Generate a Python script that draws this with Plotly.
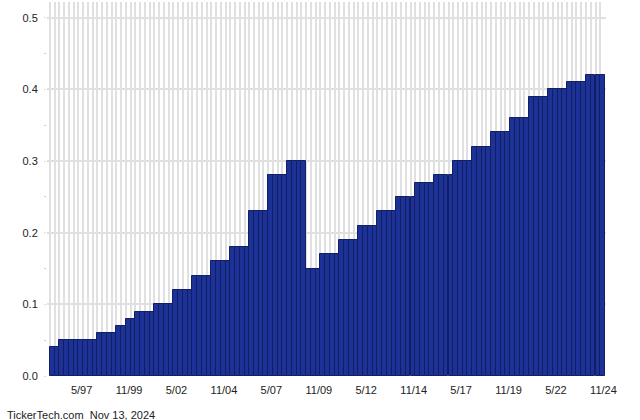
import pandas as pd
import plotly.graph_objects as go

# Quarterly dividend dates (start of each bar) and amounts
dates = pd.date_range("1995-09-01", periods=117, freq="3MS")
values = (
    [0.04] * 2 + [0.05] * 8 + [0.06] * 4 + [0.07] * 2 + [0.08] * 2
    + [0.09] * 4 + [0.10] * 4 + [0.12] * 4 + [0.14] * 4 + [0.16] * 4
    + [0.18] * 4 + [0.23] * 4 + [0.28] * 4 + [0.30] * 4 + [0.15] * 3
    + [0.17] * 4 + [0.19] * 4 + [0.21] * 4 + [0.23] * 4 + [0.25] * 4
    + [0.27] * 4 + [0.28] * 4 + [0.30] * 4 + [0.32] * 4 + [0.34] * 4
    + [0.36] * 4 + [0.39] * 4 + [0.40] * 4 + [0.41] * 4 + [0.42] * 4
)
tick_dates = ["1997-05-01", "1999-11-01", "2002-05-01", "2004-11-01",
              "2007-05-01", "2009-11-01", "2012-05-01", "2014-11-01",
              "2017-05-01", "2019-11-01", "2022-05-01", "2024-11-01"]
tick_labels = ["5/97", "11/99", "5/02", "11/04", "5/07", "11/09",
               "5/12", "11/14", "5/17", "11/19", "5/22", "11/24"]
footer = "TickerTech.com \u00a0Nov 13, 2024"

quarter_ms = 91.31 * 24 * 3600 * 1000

fig = go.Figure()
fig.add_trace(go.Bar(
    x=dates, y=values,
    width=quarter_ms, offset=0,
    marker=dict(color="#1d3296", line=dict(color="#111e64", width=1)),
    hoverinfo="x+y",
))

font = "Liberation Sans, Arial, sans-serif"
fig.update_layout(
    width=640, height=420,
    margin=dict(l=47, r=34, t=2, b=44, autoexpand=False),
    paper_bgcolor="white", plot_bgcolor="white",
    showlegend=False,
    bargap=0,
    font=dict(family=font, size=11, color="#222222"),
    xaxis=dict(
        type="date", automargin=False,
        range=["1995-07-05", "2024-12-20"],
        tickmode="array", tickvals=tick_dates, ticktext=tick_labels,
        showgrid=False, zeroline=False, showline=False,
        ticks="", ticklabelstandoff=6,
        tickfont=dict(size=11, color="#222222"),
        minor=dict(tickvals=list(dates), showgrid=True,
                   gridcolor="#e0e0e0", gridwidth=1.5, ticks=""),
    ),
    yaxis=dict(
        automargin=False,
        range=[0, 0.522], dtick=0.1, tick0=0, tickformat=".1f",
        showgrid=True, gridcolor="#e0e0e0", gridwidth=1.5,
        zeroline=False, showline=False,
        ticks="outside", ticklen=2, tickcolor="#dedede",
        ticklabelstandoff=4,
        tickfont=dict(size=11, color="#222222"),
        minor=dict(dtick=0.05, ticks="outside", ticklen=2,
                   tickcolor="#cccccc", showgrid=False),
    ),
    annotations=[dict(
        text=footer, xref="paper", yref="paper",
        x=-42 / 559, y=-39 / 374, xanchor="left", yanchor="middle",
        showarrow=False, font=dict(size=11, color="#222222"),
    )],
)

fig.write_html(
    "out.html",
    config={"displayModeBar": False},
    post_script="document.body.style.margin='0';document.body.style.overflow='hidden';",
)
